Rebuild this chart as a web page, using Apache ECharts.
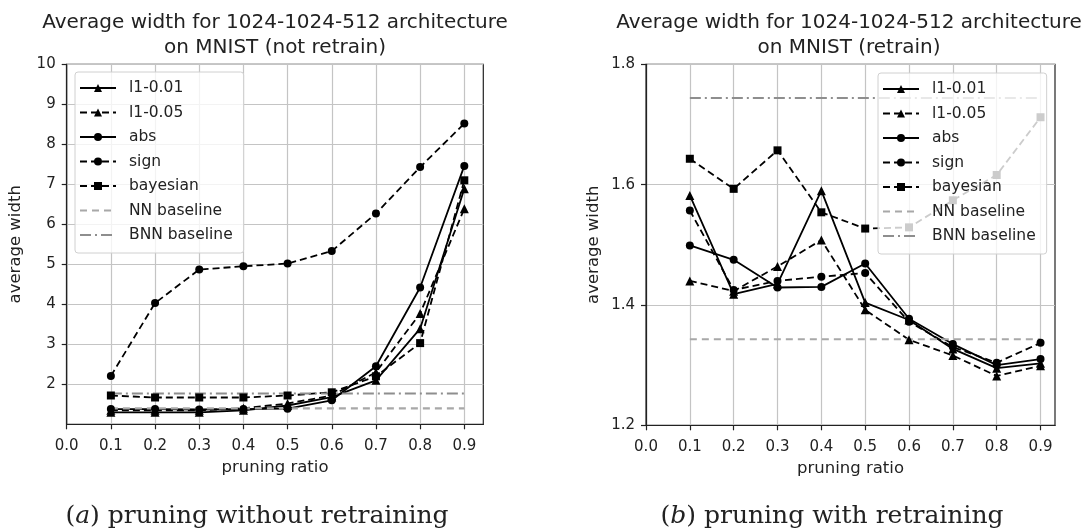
<!DOCTYPE html>
<html>
<head>
<meta charset="utf-8">
<script src="https://cdn.jsdelivr.net/npm/echarts@6/dist/echarts.min.js"></script>
<style>
	html, body { margin: 0; padding: 0; background: #fff; }
	#chart { width: 1092px; height: 529px; }
</style>
</head>
<body>
<div id="chart"></div>
<script>
	/**数据**/
	var ratios = [0.1, 0.2, 0.3, 0.4, 0.5, 0.6, 0.7, 0.8, 0.9]
	var xTicks = [0, 0.1, 0.2, 0.3, 0.4, 0.5, 0.6, 0.7, 0.8, 0.9]
	var yTicksA = [2, 3, 4, 5, 6, 7, 8, 9, 10]
	var yTicksB = [1.2, 1.4, 1.6, 1.8]
	var names = ['l1-0.01', 'l1-0.05', 'abs', 'sign', 'bayesian', 'NN baseline', 'BNN baseline']

	// (a) not retrain
	var l1_001A = [1.30, 1.30, 1.30, 1.35, 1.47, 1.68, 2.10, 3.39, 6.89]
	var l1_005A = [1.35, 1.35, 1.35, 1.40, 1.52, 1.72, 2.30, 3.77, 6.39]
	var absA = [1.38, 1.38, 1.37, 1.38, 1.39, 1.60, 2.45, 4.42, 7.46]
	var signA = [2.21, 4.03, 4.87, 4.95, 5.02, 5.33, 6.27, 7.43, 8.52]
	var bayesA = [1.72, 1.67, 1.67, 1.67, 1.72, 1.80, 2.20, 3.03, 7.10]
	var nnBaseA = 1.40
	var bnnBaseA = 1.77

	// (b) retrain
	var l1_001B = [1.582, 1.418, 1.435, 1.590, 1.404, 1.375, 1.327, 1.295, 1.303]
	var l1_005B = [1.440, 1.423, 1.464, 1.508, 1.392, 1.342, 1.316, 1.282, 1.299]
	var absB = [1.499, 1.475, 1.429, 1.430, 1.469, 1.377, 1.335, 1.300, 1.310]
	var signB = [1.557, 1.425, 1.440, 1.447, 1.453, 1.372, 1.330, 1.304, 1.337]
	var bayesB = [1.643, 1.593, 1.657, 1.554, 1.527, 1.529, 1.574, 1.616, 1.712]
	var nnBaseB = 1.343
	var bnnBaseB = 1.744

	var font = 'DejaVu Sans'
	var dash = [7, 4]

	function pairs(values) {
		return ratios.map(function(r, i) { return [r, values[i]] })
	}
	function flat(v) {
		return ratios.map(function(r) { return [r, v] })
	}

	function makeSeries(g, sets, nn, bnn) {
		var symbols = ['triangle', 'triangle', 'circle', 'circle', 'rect']
		var sizes = [9, 9, 8, 8, 8]
		var types = ['solid', dash, 'solid', dash, dash]
		var list = []
		for(var i = 0; i < sets.length; i++) {
			list.push({
				name: names[i],
				type: 'line',
				xAxisIndex: g,
				yAxisIndex: g,
				color: '#000',
				symbol: symbols[i],
				symbolSize: sizes[i],
				showAllSymbol: true,
				lineStyle: { color: '#000', width: 1.8, type: types[i] },
				itemStyle: { color: '#000' },
				emphasis: { disabled: true },
				data: pairs(sets[i])
			})
		}
		list.push({
			name: names[5], type: 'line', xAxisIndex: g, yAxisIndex: g,
			color: '#a8a8a8', symbol: 'none',
			lineStyle: { color: '#a8a8a8', width: 2.2, type: [7, 5] },
			emphasis: { disabled: true },
			data: flat(nn)
		})
		list.push({
			name: names[6], type: 'line', xAxisIndex: g, yAxisIndex: g,
			color: '#8e8e8e', symbol: 'none',
			lineStyle: { color: '#8e8e8e', width: 2.2, type: [11, 4, 2, 4] },
			emphasis: { disabled: true },
			data: flat(bnn)
		})
		return list
	}

	function xAxis(g, max) {
		return {
			type: 'value', gridIndex: g, min: 0, max: max,
			name: 'pruning ratio', nameLocation: 'middle', nameGap: 35,
			nameTextStyle: { fontFamily: font, fontSize: 16.5, color: '#222' },
			axisLine: { show: true, onZero: false, lineStyle: { color: '#222', width: 1.2 } },
			axisTick: { show: true, length: 5, customValues: xTicks, lineStyle: { color: '#222', width: 1.2 } },
			axisLabel: {
				customValues: xTicks, margin: 14, fontFamily: font, fontSize: 15, color: '#222',
				formatter: function(v) { return v.toFixed(1) }
			},
			splitLine: { show: true, lineStyle: { color: '#c4c4c4', width: 1.2 } }
		}
	}

	function yAxis(g, min, max, ticks, digits, gap) {
		return {
			type: 'value', gridIndex: g, min: min, max: max,
			name: 'average width', nameLocation: 'middle', nameGap: gap,
			nameTextStyle: { fontFamily: font, fontSize: 16.5, color: '#222' },
			axisLine: { show: true, onZero: false, lineStyle: { color: '#222', width: 1.2 } },
			axisTick: { show: true, length: 5, customValues: ticks, lineStyle: { color: '#222', width: 1.2 } },
			axisLabel: {
				customValues: ticks, margin: 11, fontFamily: font, fontSize: 15, color: '#222',
				formatter: function(v) { return v.toFixed(digits) }
			},
			splitLine: { show: true, lineStyle: { color: '#c4c4c4', width: 1.2 } }
		}
	}

	function legend(left, top) {
		var items = names.map(function(n, i) {
			// baselines have no marker
			return i < 5 ? { name: n } : { name: n, itemStyle: { opacity: 0, borderWidth: 0 } }
		})
		return {
			orient: 'vertical', left: left, top: top,
			data: items,
			selectedMode: false,
			itemWidth: 36, itemHeight: 10, itemGap: 8.5,
			padding: [8, 11, 10, 4],
			backgroundColor: 'rgba(255,255,255,0.8)',
			borderColor: '#d0d0d0', borderWidth: 1, borderRadius: 3,
			textStyle: { fontFamily: font, fontSize: 15.5, color: '#222', lineHeight: 16, padding: [0, 0, 0, 8] }
		}
	}

	function label(x, y, text, size, family, extra) {
		var style = { text: text, x: 0, y: 0, fontSize: size, fontFamily: family, fill: '#222', align: 'center', verticalAlign: 'middle', lineHeight: 25 }
		for(var k in extra) style[k] = extra[k]
		return { type: 'text', x: x, y: y, silent: true, style: style }
	}

	var serif = { fontSize: 25, fontFamily: 'DejaVu Serif', fill: '#222' }
	var serifIt = { fontSize: 25, fontFamily: 'DejaVu Serif', fontStyle: 'italic', fill: '#222' }

	var myChart = echarts.init(document.getElementById('chart'))
	var option = {
		animation: false,
		backgroundColor: '#fff',
		grid: [
			{ left: 66.7, top: 64.3, width: 416.6, height: 360, show: true, borderColor: '#222', borderWidth: 1.2, backgroundColor: 'transparent' },
			{ left: 646, top: 64.3, width: 409, height: 361, show: true, borderColor: '#222', borderWidth: 1.2, backgroundColor: 'transparent' }
		],
		xAxis: [xAxis(0, 0.943), xAxis(1, 0.933)],
		yAxis: [yAxis(0, 1, 10, yTicksA, 0, 42), yAxis(1, 1.2, 1.8, yTicksB, 1, 44)],
		legend: [legend(75, 72), legend(878, 73)],
		graphic: [
			label(275, 35.5, 'Average width for 1024-1024-512 architecture\non MNIST (not retrain)', 20, font),
			label(849, 35.5, 'Average width for 1024-1024-512 architecture\non MNIST (retrain)', 20, font),
			label(257, 516, '{p|(}{i|a}{p|) pruning without retraining}', 25, 'DejaVu Serif', { rich: { p: serif, i: serifIt } }),
			label(832, 516, '{p|(}{i|b}{p|) pruning with retraining}', 25, 'DejaVu Serif', { rich: { p: serif, i: serifIt } })
		],
		series: makeSeries(0, [l1_001A, l1_005A, absA, signA, bayesA], nnBaseA, bnnBaseA)
			.concat(makeSeries(1, [l1_001B, l1_005B, absB, signB, bayesB], nnBaseB, bnnBaseB))
	}
	myChart.setOption(option)

	window.onresize = function() {
		myChart.resize()
	}
</script>
</body>
</html>
